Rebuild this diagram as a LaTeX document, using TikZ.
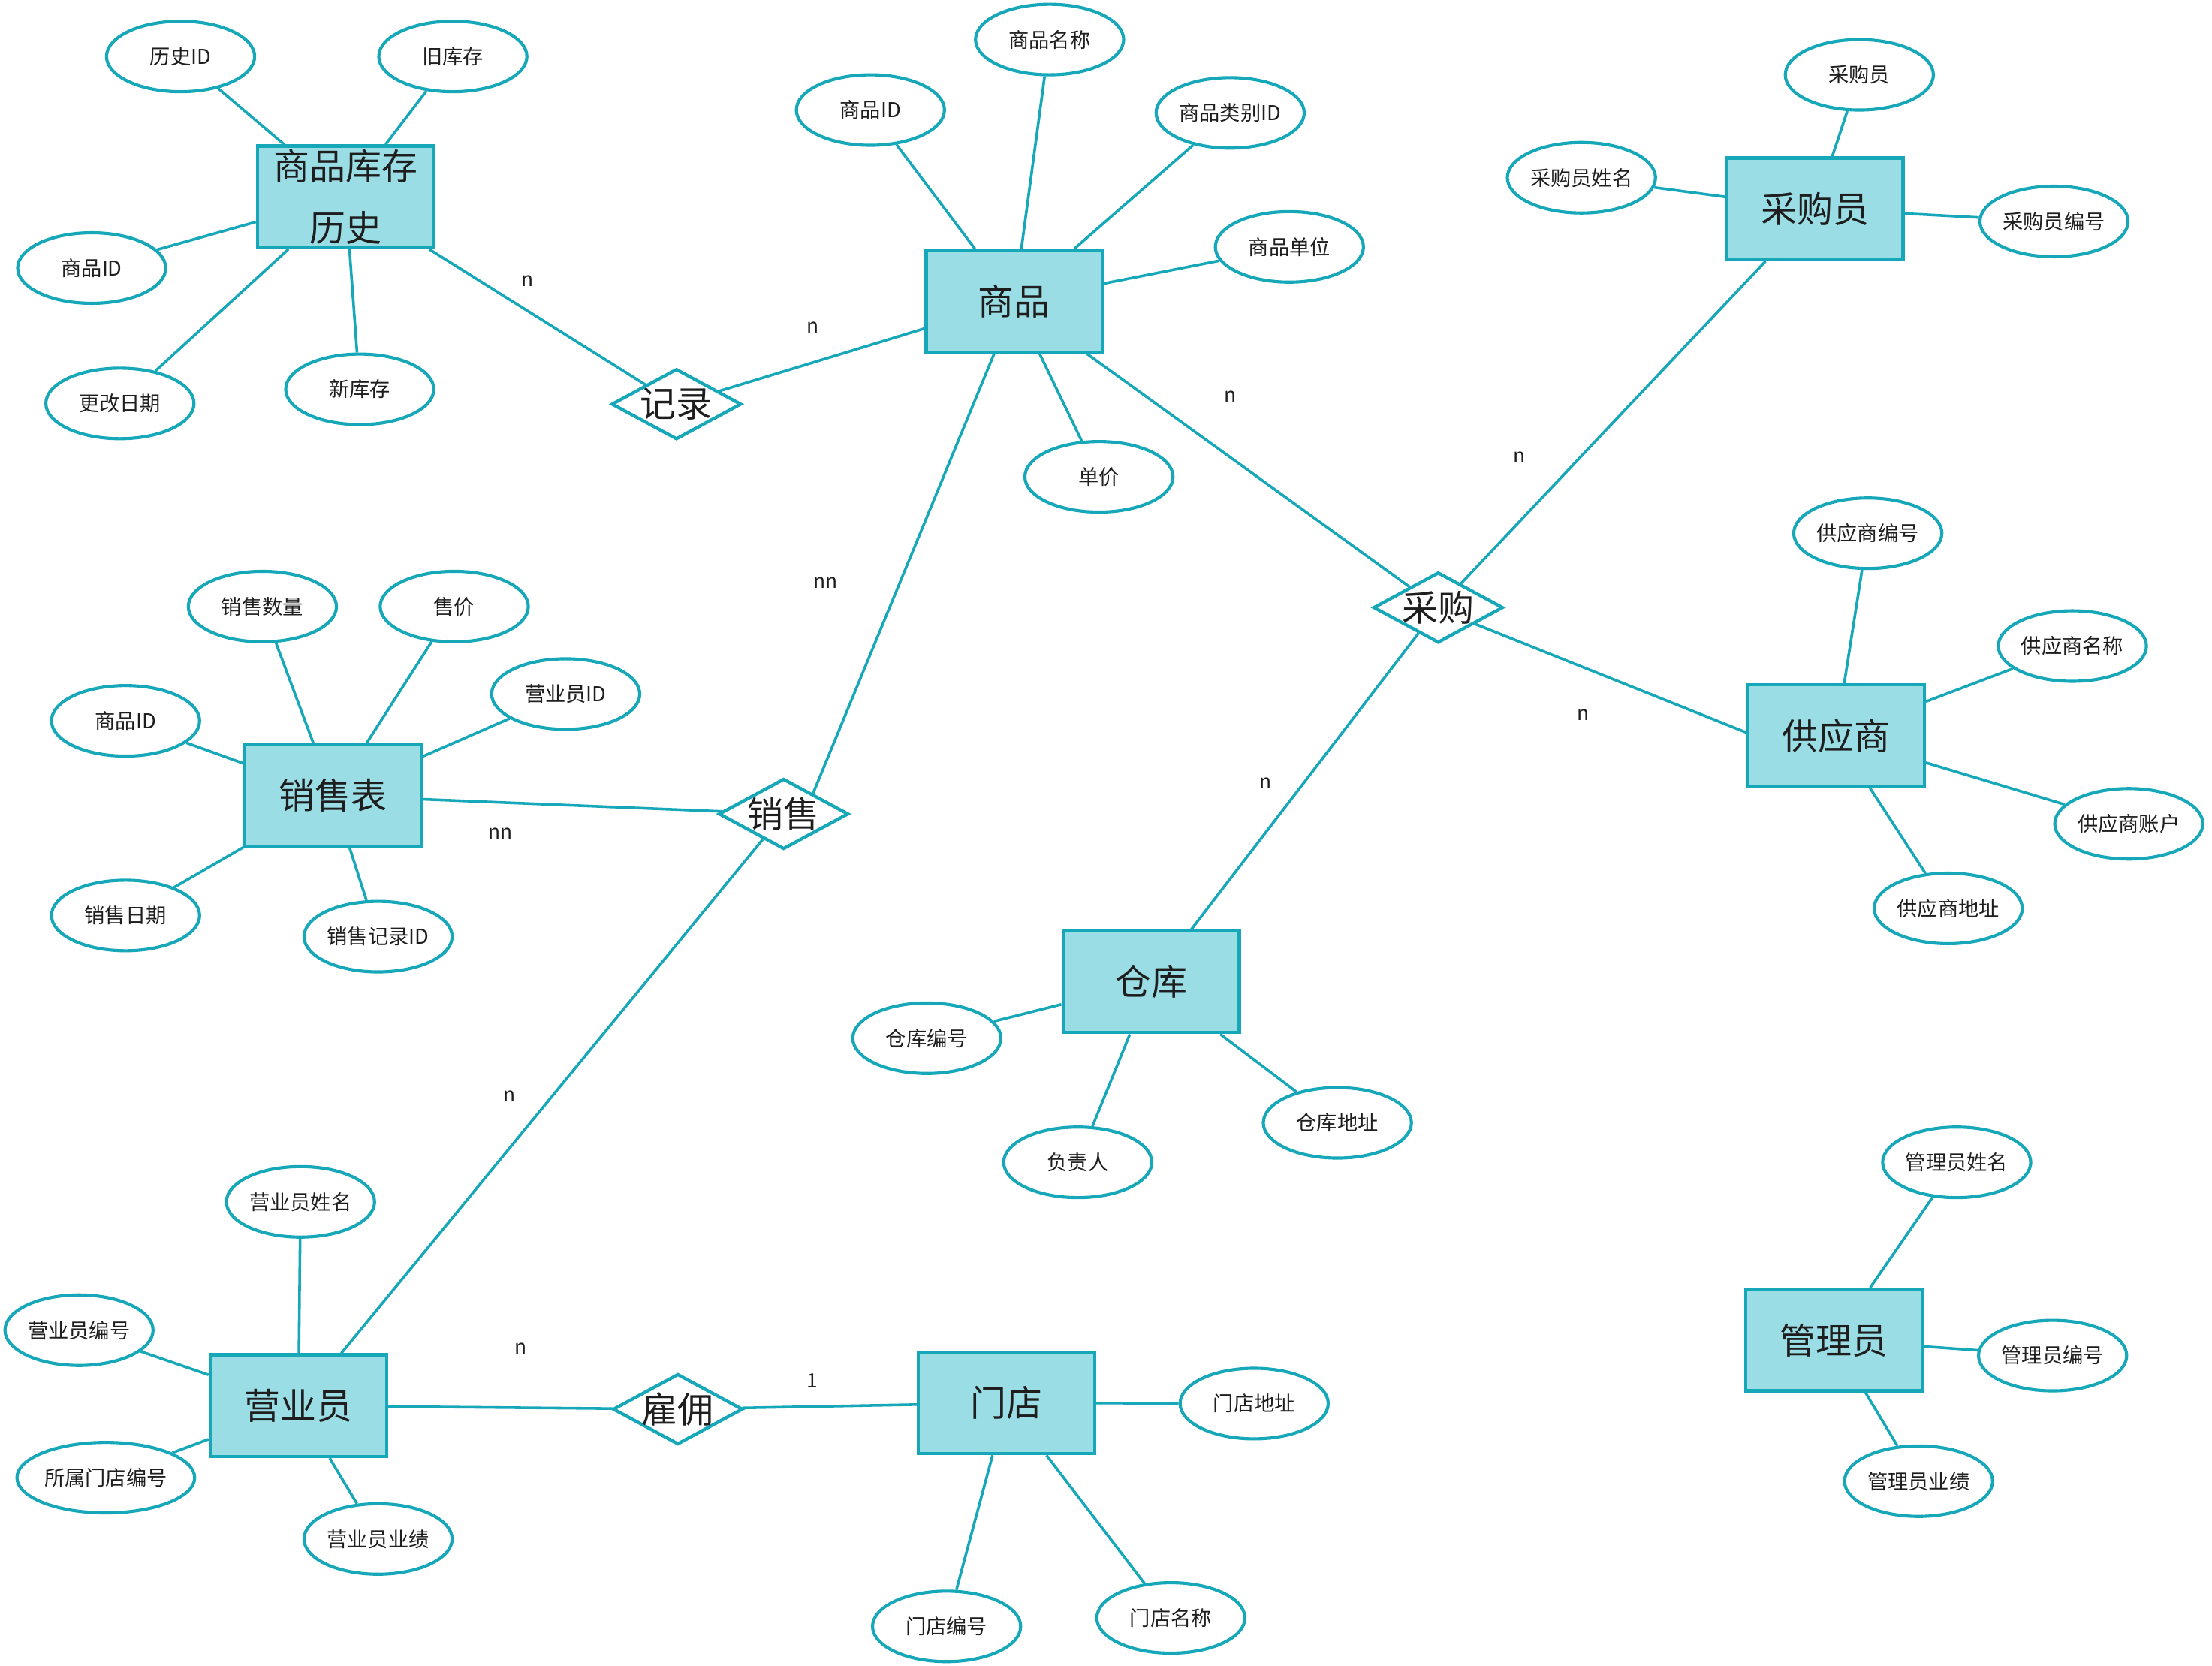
\documentclass[tikz,border=0pt]{standalone}
\usepackage{fontspec}
\setmainfont{Noto Sans CJK SC}
\usetikzlibrary{shapes.geometric}
\definecolor{ln}{RGB}{22,167,184}
\definecolor{bx}{RGB}{155,221,229}
\definecolor{tx}{RGB}{30,30,30}
\tikzset{
  ent/.style={rectangle, draw=ln, fill=bx, line width=2.3pt, minimum width=125pt, minimum height=72pt, inner sep=0pt, text=tx, font=\fontsize{25.5}{30}\selectfont},
  relbox/.style={diamond, draw=ln, fill=white, line width=2.3pt, minimum width=92pt, minimum height=50pt, inner sep=0pt},
  reltext/.style={inner sep=0pt, text=tx, font=\fontsize{25.5}{30}\selectfont},
  attr/.style={ellipse, draw=ln, fill=white, line width=2.2pt, minimum width=105pt, minimum height=50pt, inner sep=0pt, text=tx, font=\fontsize{14.5}{17}\selectfont},
  lbl/.style={inner sep=0pt, text=tx, font=\fontsize{14}{17}\selectfont},
  conn/.style={draw=ln, line width=1.9pt}
}
\begin{document}
\begin{tikzpicture}[x=1pt,y=-1pt]
\useasboundingbox (0,0) rectangle (1568,1181);
% entities
\node[ent, align=center, font=\fontsize{25.5}{44}\selectfont] (kcls) at (245,139.5) {商品库存\\历史};
\node[ent] (sp) at (719,213.5) {商品};
\node[ent] (cgy) at (1286.5,148) {采购员};
\node[ent] (gys) at (1301.5,521.5) {供应商};
\node[ent] (xsb) at (236,564) {销售表};
\node[ent] (ck) at (816,696) {仓库};
\node[ent] (yyy) at (211.5,996.5) {营业员};
\node[ent] (md) at (713.5,994.5) {门店};
\node[ent] (gly) at (1300,950) {管理员};
% relationships
\node[relbox] (jl) at (479.5,286.5) {};
\node[reltext] at (jl) {记录};
\node[relbox] (cg) at (1019.5,430.7) {};
\node[reltext] at (cg) {采购};
\node[relbox] (xs) at (555.5,577) {};
\node[reltext] at (xs) {销售};
\node[relbox] (gy) at (480.5,999) {};
\node[reltext] at (gy) {雇佣};
% attributes
\node[attr] (a1) at (128,40) {历史ID};
\node[attr] (a2) at (321,40) {旧库存};
\node[attr] (a3) at (65,190) {商品ID};
\node[attr] (a4) at (85,286) {更改日期};
\node[attr] (a5) at (255,276) {新库存};
\node[attr] (b1) at (617,78) {商品ID};
\node[attr] (b2) at (744,28) {商品名称};
\node[attr] (b3) at (872,80) {商品类别ID};
\node[attr] (b4) at (914,175) {商品单位};
\node[attr] (b5) at (779,338) {单价};
\node[attr] (c1) at (1318,53) {采购员};
\node[attr] (c2) at (1121,126) {采购员姓名};
\node[attr] (c3) at (1456,157) {采购员编号};
\node[attr] (d1) at (1324,378) {供应商编号};
\node[attr] (d2) at (1469,458) {供应商名称};
\node[attr] (d3) at (1509,584) {供应商账户};
\node[attr] (d4) at (1381,644) {供应商地址};
\node[attr] (e1) at (186,430) {销售数量};
\node[attr] (e2) at (322,430) {售价};
\node[attr] (e3) at (401,492) {营业员ID};
\node[attr] (e4) at (89,511) {商品ID};
\node[attr] (e5) at (89,649) {销售日期};
\node[attr] (e6) at (268,664) {销售记录ID};
\node[attr] (f1) at (657,736) {仓库编号};
\node[attr] (f2) at (764,824) {负责人};
\node[attr] (f3) at (948,796) {仓库地址};
\node[attr] (g1) at (213,852) {营业员姓名};
\node[attr] (g2) at (56,943) {营业员编号};
\node[attr, minimum width=126pt] (g3) at (75,1047.5) {所属门店编号};
\node[attr] (g4) at (268,1091) {营业员业绩};
\node[attr] (h1) at (889,995) {门店地址};
\node[attr] (h2) at (671,1153) {门店编号};
\node[attr] (h3) at (830,1147) {门店名称};
\node[attr] (k1) at (1387,824) {管理员姓名};
\node[attr] (k2) at (1455,961) {管理员编号};
\node[attr] (k3) at (1360,1050) {管理员业绩};
% attribute connectors
\foreach \a/\e in {a1/kcls,a2/kcls,a3/kcls,a4/kcls,a5/kcls,
  b1/sp,b2/sp,b3/sp,b4/sp,b5/sp,
  c1/cgy,c2/cgy,c3/cgy,
  d1/gys,d2/gys,d3/gys,d4/gys,
  e1/xsb,e2/xsb,e3/xsb,e4/xsb,e5/xsb,e6/xsb,
  f1/ck,f2/ck,f3/ck,
  g1/yyy,g2/yyy,g3/yyy,g4/yyy,
  h1/md,h2/md,h3/md,
  k1/gly,k2/gly,k3/gly}
  \draw[conn] (\a) -- (\e);
% relationship connectors
\draw[conn] (kcls) -- (jl);
\draw[conn] (jl) -- (sp);
\draw[conn] (sp) -- (cg);
\draw[conn] (sp.-111) -- (xs.35);
\draw[conn] (cgy) -- (cg);
\draw[conn] (cg.-24) -- (gys.178);
\draw[conn] (cg) -- (ck);
\draw[conn] (xsb) -- (xs);
\draw[conn] (xs) -- (yyy);
\draw[conn] (yyy) -- (gy);
\draw[conn] (gy) -- (md);
% cardinality labels
\node[lbl] (l1) at (374,199) {n};
\node[lbl] (l2) at (576,232) {n};
\node[lbl] (l3) at (872,281) {n};
\node[lbl] (l4) at (1077,324) {n};
\node[lbl] (l5) at (585,413) {nn};
\node[lbl] (l6) at (1122,507) {n};
\node[lbl] (l7) at (897,555) {n};
\node[lbl] (l8) at (355,591) {nn};
\node[lbl] (l9) at (361,777) {n};
\node[lbl] (l10) at (369,956) {n};
\node[lbl] (l11) at (576,979) {1};
\end{tikzpicture}
\end{document}
